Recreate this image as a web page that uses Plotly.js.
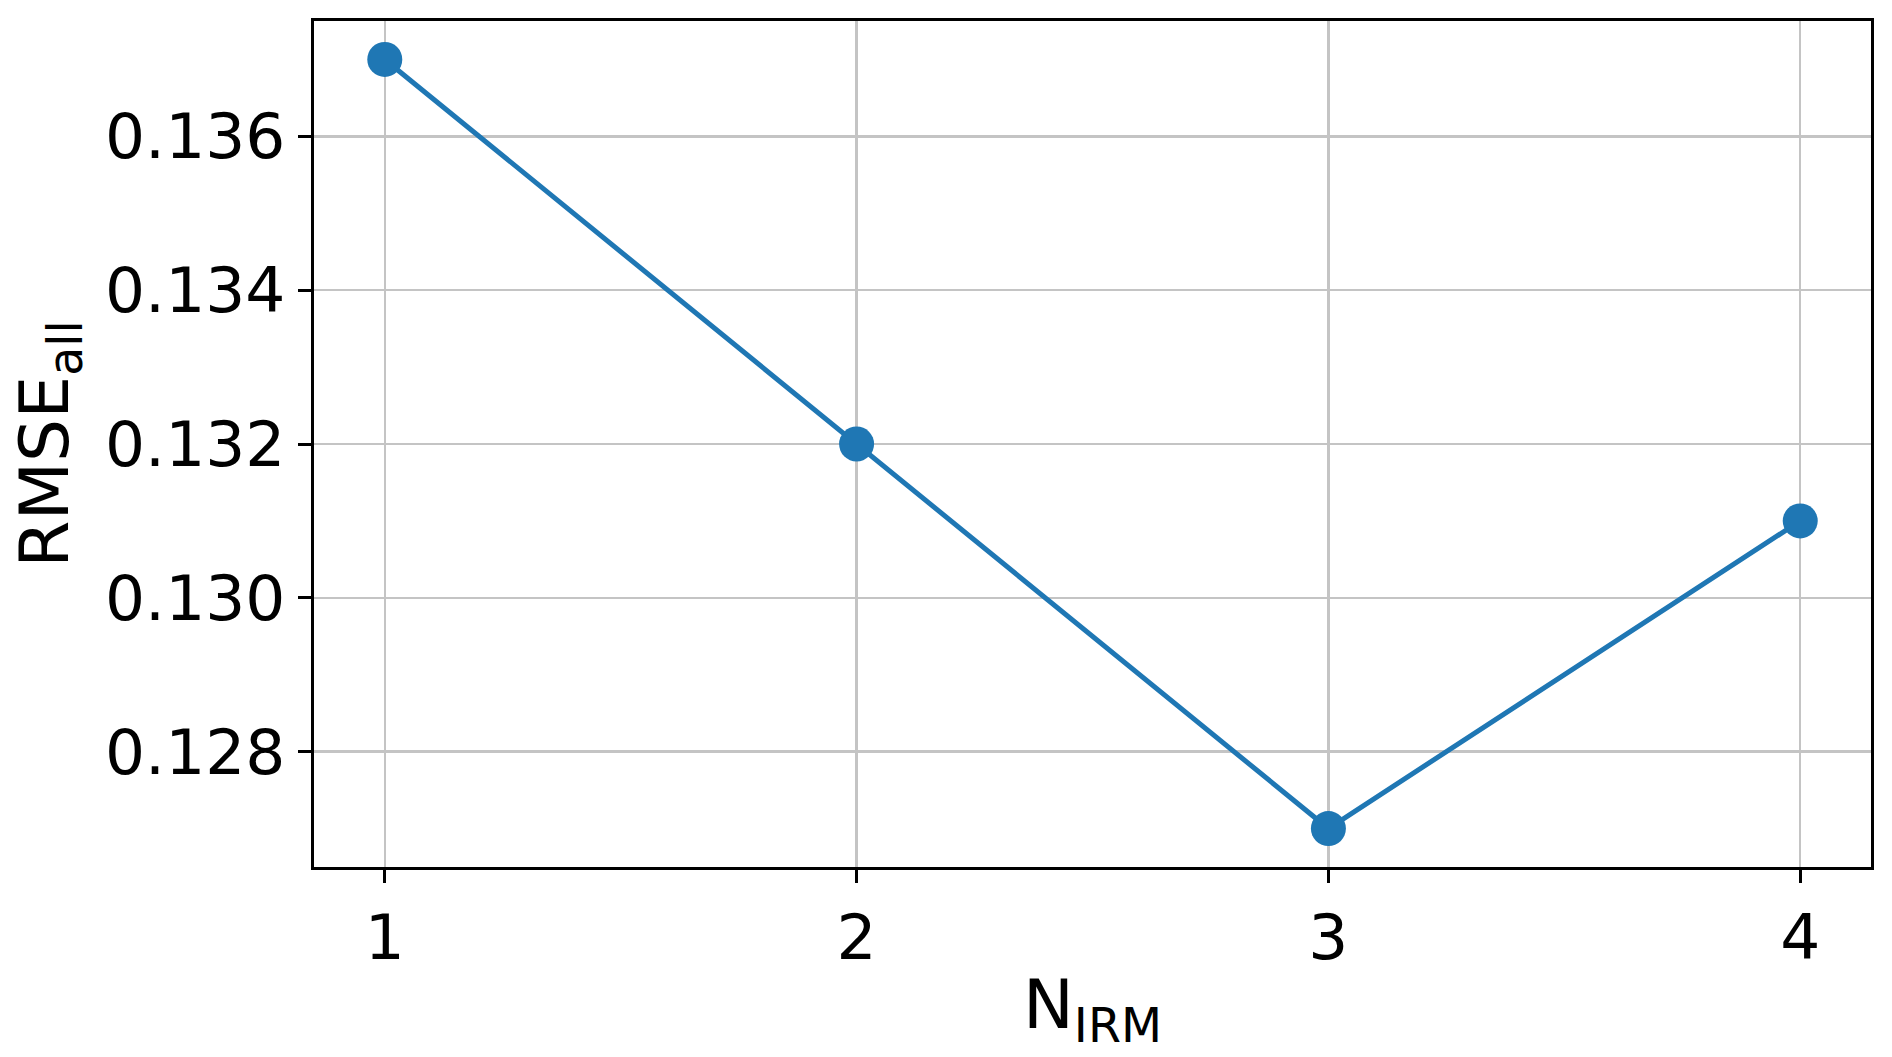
<!DOCTYPE html>
<html>
<head>
<meta charset="UTF-8">
<title>RMSE vs N_IRM</title>
<script src="https://cdn.plot.ly/plotly-3.0.1.min.js"></script>
<style>
  body { margin: 0; padding: 0; background: #fff; }
  #plot { width: 1892px; height: 1057px; }
</style>
</head>
<body>
<div id="plot"></div>
<script>
// data
const nIrm = [1, 2, 3, 4];
const rmseAll = [0.137, 0.132, 0.127, 0.131];
const yTicks = [0.128, 0.130, 0.132, 0.134, 0.136];
const yTickText = ['0.128', '0.130', '0.132', '0.134', '0.136'];

const font = 'DejaVu Sans, sans-serif';

const trace = {
  x: nIrm,
  y: rmseAll,
  type: 'scatter',
  mode: 'lines+markers',
  line: { color: '#1f77b4', width: 5 },
  marker: { color: '#1f77b4', size: 35 },
  cliponaxis: false,
  hoverinfo: 'skip'
};

const layout = {
  width: 1892,
  height: 1057,
  margin: { l: 314, r: 21, t: 21, b: 190 },
  paper_bgcolor: '#fff',
  plot_bgcolor: '#fff',
  showlegend: false,
  font: { family: font, color: '#000' },
  xaxis: {
    range: [0.85, 4.15],
    tickvals: nIrm,
    ticktext: nIrm.map(String),
    ticks: 'outside',
    ticklen: 13,
    tickwidth: 3,
    tickcolor: '#000',
    tickfont: { size: 63, family: font },
    showgrid: true,
    gridcolor: '#c4c4c4',
    gridwidth: 2.5,
    showline: true,
    linecolor: '#000',
    linewidth: 3,
    mirror: true,
    zeroline: false,
    title: { text: 'N<sub>IRM</sub>', font: { size: 68, family: font }, standoff: 8 }
  },
  yaxis: {
    range: [0.1265, 0.1375],
    tickvals: yTicks,
    ticktext: yTickText,
    ticks: 'outside',
    ticklen: 13,
    tickwidth: 3,
    tickcolor: '#000',
    tickfont: { size: 63, family: font },
    showgrid: true,
    gridcolor: '#c4c4c4',
    gridwidth: 2.5,
    showline: true,
    linecolor: '#000',
    linewidth: 3,
    mirror: true,
    zeroline: false,
    title: { text: 'RMSE<sub>all</sub>', font: { size: 68, family: font }, standoff: 15 }
  }
};

Plotly.newPlot('plot', [trace], layout, { staticPlot: true, displayModeBar: false });
</script>
</body>
</html>
